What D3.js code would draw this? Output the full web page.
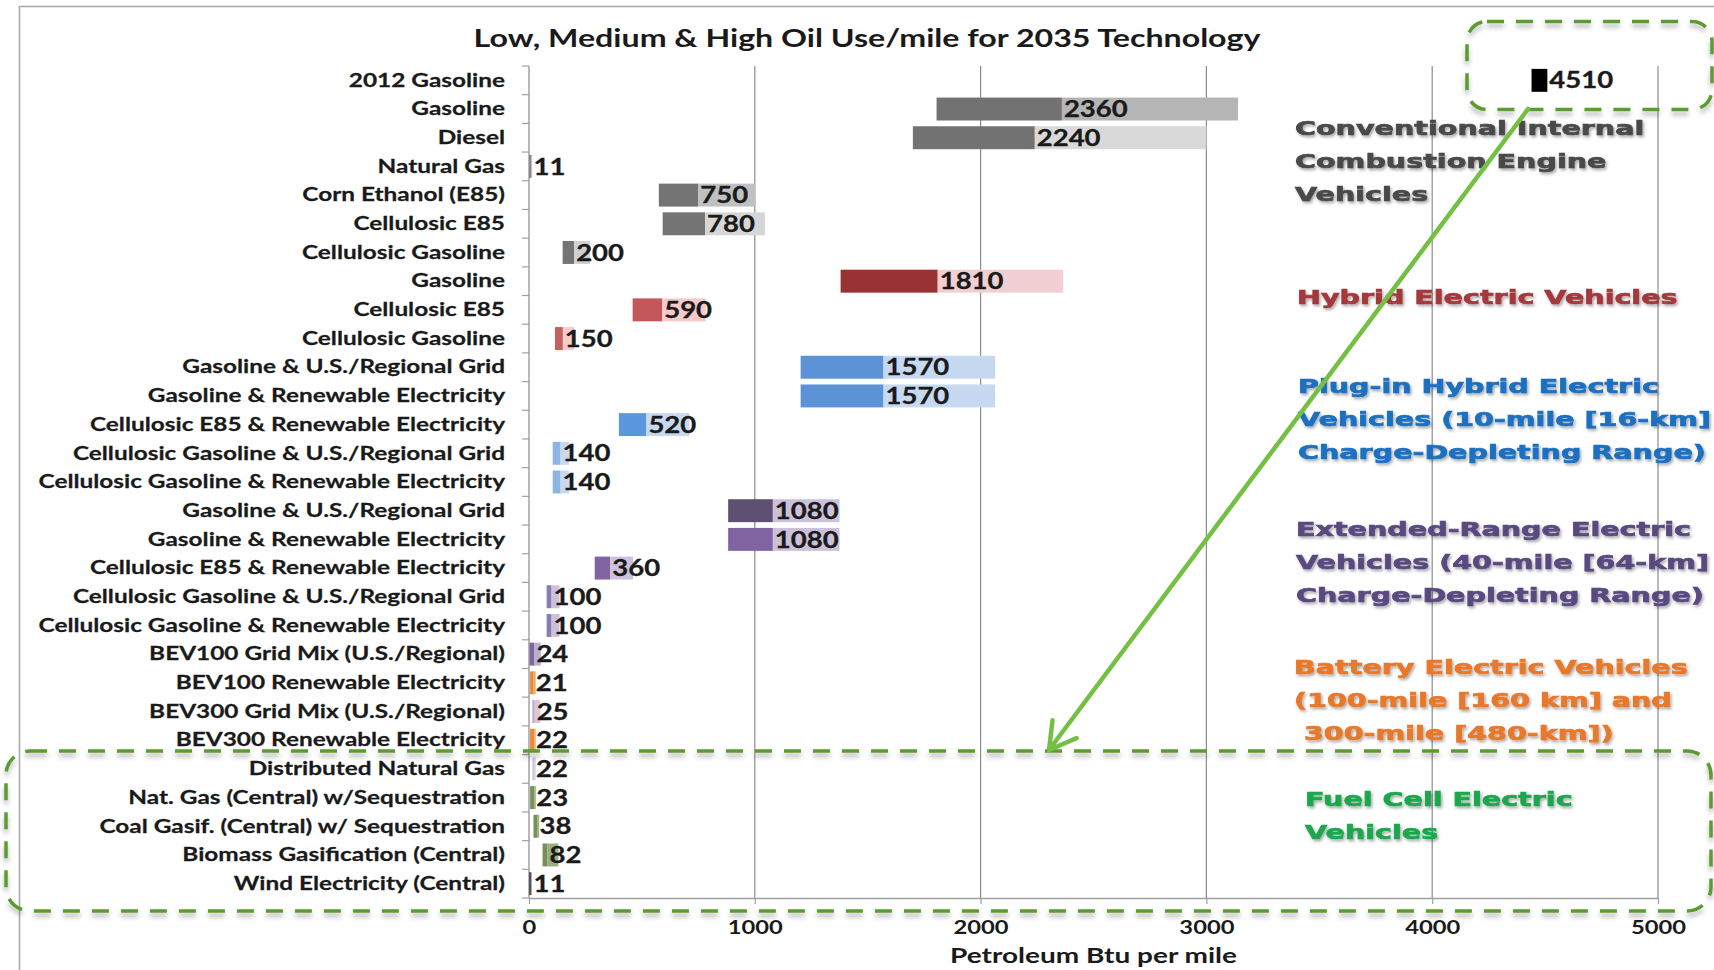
<!DOCTYPE html>
<html>
<head>
<meta charset="utf-8">
<script src="https://cdn.jsdelivr.net/npm/d3@7"></script>
<style>
  body { margin: 0; background: #fff; }
  svg { display: block; }
</style>
</head>
<body>
<svg id="chart" width="1714" height="970"></svg>
<script>
// rows, top to bottom
var categories = [
  "2012 Gasoline", "Gasoline", "Diesel", "Natural Gas", "Corn Ethanol (E85)", "Cellulosic E85", "Cellulosic Gasoline",
  "Gasoline", "Cellulosic E85", "Cellulosic Gasoline",
  "Gasoline & U.S./Regional Grid", "Gasoline & Renewable Electricity", "Cellulosic E85 & Renewable Electricity",
  "Cellulosic Gasoline & U.S./Regional Grid", "Cellulosic Gasoline & Renewable Electricity",
  "Gasoline & U.S./Regional Grid", "Gasoline & Renewable Electricity", "Cellulosic E85 & Renewable Electricity",
  "Cellulosic Gasoline & U.S./Regional Grid", "Cellulosic Gasoline & Renewable Electricity",
  "BEV100 Grid Mix (U.S./Regional)", "BEV100 Renewable Electricity", "BEV300 Grid Mix (U.S./Regional)", "BEV300 Renewable Electricity",
  "Distributed Natural Gas", "Nat. Gas (Central) w/Sequestration", "Coal Gasif. (Central) w/ Sequestration",
  "Biomass Gasification (Central)", "Wind Electricity (Central)"
];

// petroleum Btu per mile: low / medium / high
var lowUse  = [4440, 1805, 1700, 0, 575, 592, 149, 1380, 459, 115, 1203, 1203, 398, 105, 105, 882, 882, 291, 78, 78, 2, 5, 15, 5, 15, 5, 20, 60, 0];
var medUse  = [4510, 2360, 2240, 11, 750, 780, 200, 1810, 590, 150, 1570, 1570, 520, 140, 140, 1080, 1080, 360, 100, 100, 24, 21, 25, 22, 22, 23, 38, 82, 11];
var highUse = [4510, 3140, 3000, 14, 1003, 1045, 270, 2366, 783, 200, 2064, 2064, 710, 177, 177, 1375, 1375, 461, 135, 135, 52, 30, 50, 30, 30, 30, 45, 130, 11];

var xTicks = [0, 1000, 2000, 3000, 4000, 5000];

var groupLines = [
  ["Conventional Internal", "Combustion Engine", "Vehicles"],
  ["Hybrid Electric Vehicles"],
  ["Plug-in Hybrid Electric", "Vehicles (10-mile [16-km]", "Charge-Depleting Range)"],
  ["Extended-Range Electric", "Vehicles (40-mile [64-km]", "Charge-Depleting Range)"],
  ["Battery Electric Vehicles", "(100-mile [160 km] and", " 300-mile [480-km])"],
  ["Fuel Cell Electric", "Vehicles"]
];

var darkColor = ["#000000", "#727272", "#727272", "#8a8a8a", "#747474", "#747474", "#747474",
  "#993333", "#c4575a", "#c4605e",
  "#5b93d6", "#5b93d6", "#5b97dc", "#8db4e2", "#8db4e2",
  "#5f4f73", "#8064a2", "#8064a2", "#8a7cb0", "#8a7cb0",
  "#7d66a0", "#e8883a", "#9fb0e0", "#e8883a",
  "#c8c2da", "#77905a", "#77905a", "#77905a", "#555555"];
var lightColor = ["#000000", "#b5b5b5", "#d9d9d9", "#bdbdbd", "#c0c0c0", "#d6d6d6", "#d0d0d0",
  "#f2d0d2", "#f4caca", "#f4cccc",
  "#c6d9f1", "#c6d9f1", "#c6d9f1", "#c6d9f1", "#c6d9f1",
  "#ccc0da", "#ccc0da", "#ccc0da", "#ccc0da", "#ccc0da",
  "#b8aed0", "#f0b070", "#e8c4ca", "#f0b070",
  "#d8d4e4", "#9aae80", "#9aae80", "#9aae80", "#888888"];
var groupColors = ["#4a4a4a", "#a3383c", "#1f6fc0", "#5a4a80", "#e8782a", "#1ea64e"];

var svg = d3.select("#chart");
var plotLeft = 529, plotRight = 1658, plotTop = 66, plotBottom = 898;
var sx = 1.25; // text in the source is drawn wide

var x = d3.scaleLinear().domain([0, 5000]).range([plotLeft, plotRight]);
var y = d3.scaleBand().domain(d3.range(categories.length)).range([plotTop, plotBottom])
  .paddingInner(0.2).paddingOuter(0.1);

var defs = svg.append("defs");
var sh = defs.append("filter").attr("id", "shadow").attr("x", "-10%").attr("y", "-10%").attr("width", "120%").attr("height", "140%");
sh.append("feDropShadow").attr("dx", 1.5).attr("dy", 2).attr("stdDeviation", 1.4)
  .attr("flood-color", "#000").attr("flood-opacity", 0.35);
var bsh = defs.append("filter").attr("id", "boxshadow").attr("x", "-5%").attr("y", "-20%").attr("width", "110%").attr("height", "150%");
bsh.append("feDropShadow").attr("dx", 0).attr("dy", 4).attr("stdDeviation", 2.5)
  .attr("flood-color", "#000").attr("flood-opacity", 0.3);

// outer frame
svg.append("path").attr("d", "M19.5,970V6.5H1714").attr("fill", "none")
  .attr("stroke", "#a6a6a6").attr("stroke-width", 1.5);

// title
svg.append("text")
  .attr("transform", "translate(867,47) scale(1.34,1)")
  .attr("text-anchor", "middle")
  .style("font-family", "Lato").style("font-size", "24px").style("font-weight", "bold")
  .attr("fill", "#1a1a1a")
  .text("Low, Medium & High Oil Use/mile for 2035 Technology");

// gridlines
svg.append("g").selectAll("line").data(xTicks.slice(1)).join("line")
  .attr("x1", function(d) { return x(d); }).attr("x2", function(d) { return x(d); })
  .attr("y1", plotTop).attr("y2", plotBottom)
  .attr("stroke", "#8c8c8c").attr("stroke-width", 1.2);

// x axis
var gx = svg.append("g").attr("transform", "translate(0," + plotBottom + ")")
  .call(d3.axisBottom(x).tickValues(xTicks).tickFormat(d3.format("d"))
    .tickSizeInner(6).tickSizeOuter(0).tickPadding(17));
gx.select(".domain").attr("stroke", "#a0a0a0").attr("stroke-width", 1.5);
gx.selectAll(".tick line").attr("stroke", "#a0a0a0").attr("stroke-width", 1.2);
gx.selectAll(".tick text")
  .attr("transform", "scale(" + sx + ",1)")
  .style("font-family", "Lato").style("font-size", "19px").style("font-weight", "bold")
  .attr("fill", "#1a1a1a");

svg.append("text")
  .attr("transform", "translate(" + ((plotLeft + plotRight) / 2) + ",963) scale(1.4,1)")
  .attr("text-anchor", "middle")
  .style("font-family", "Lato").style("font-size", "20px").style("font-weight", "bold")
  .attr("fill", "#1a1a1a")
  .text("Petroleum Btu per mile");

// y axis with labels
var gy = svg.append("g").attr("transform", "translate(" + plotLeft + ",0)")
  .call(d3.axisLeft(y).tickSize(0).tickPadding(24).tickFormat(function(i) { return categories[i]; }));
gy.select(".domain").remove();
gy.selectAll(".tick text")
  .attr("transform", "scale(" + sx + ",1)")
  .attr("x", -24 / sx)
  .style("font-family", "Lato").style("font-size", "19.5px").style("font-weight", "bold")
  .attr("fill", "#1a1a1a").attr("stroke", "#1a1a1a").attr("stroke-width", 0.25);
svg.append("line").attr("x1", plotLeft).attr("x2", plotLeft).attr("y1", plotTop).attr("y2", plotBottom)
  .attr("stroke", "#a0a0a0").attr("stroke-width", 1.5);
svg.append("g").selectAll("line").data(d3.range(categories.length + 1)).join("line")
  .attr("x1", plotLeft - 7).attr("x2", plotLeft)
  .attr("y1", function(i) { return plotTop + i * y.step(); })
  .attr("y2", function(i) { return plotTop + i * y.step(); })
  .attr("stroke", "#a0a0a0").attr("stroke-width", 1.2);

// bars: low->medium dark, medium->high light
var rows = svg.append("g").selectAll("g").data(d3.range(categories.length)).join("g");
rows.append("rect")
  .attr("x", function(i) { return x(lowUse[i]); })
  .attr("y", function(i) { return y(i); })
  .attr("width", function(i) { return Math.max(x(medUse[i]) - x(lowUse[i]), 0); })
  .attr("height", y.bandwidth())
  .attr("fill", function(i) { return darkColor[i]; });
rows.append("rect")
  .attr("x", function(i) { return x(medUse[i]); })
  .attr("y", function(i) { return y(i); })
  .attr("width", function(i) { return Math.max(x(highUse[i]) - x(medUse[i]), 0); })
  .attr("height", y.bandwidth())
  .attr("fill", function(i) { return lightColor[i]; });
rows.append("text")
  .attr("transform", function(i) {
    return "translate(" + (x(medUse[i]) + 2) + "," + (y(i) + y.bandwidth() / 2) + ") scale(" + sx + ",1)";
  })
  .attr("dy", "0.37em")
  .style("font-family", "Lato").style("font-size", "22px").style("font-weight", "bold")
  .attr("fill", "#1a1a1a").attr("stroke", "#1a1a1a").attr("stroke-width", 0.3)
  .text(function(i) { return medUse[i]; });

// group annotations
var groupPos = [[1295, 135], [1297, 304], [1298, 393], [1296, 536], [1294, 674], [1305, 806]];
groupLines.forEach(function(lines, g) {
  var t = svg.append("g").attr("filter", "url(#shadow)");
  t.selectAll("text").data(lines).join("text")
    .attr("transform", function(d, k) {
      return "translate(" + groupPos[g][0] + "," + (groupPos[g][1] + k * 32.8) + ") scale(1.43,1)";
    })
    .style("white-space", "pre")
    .style("font-family", "DejaVu Sans").style("font-size", "20px").style("font-weight", "bold")
    .attr("fill", groupColors[g]).attr("stroke", groupColors[g]).attr("stroke-width", 0.7)
    .text(function(d) { return d; });
});

// dashed callouts
var callouts = [[1467, 21.5, 245, 88, 20], [6, 751, 1705, 160, 24]];
svg.append("g").selectAll("rect").data(callouts).join("rect")
  .attr("x", function(d) { return d[0]; }).attr("y", function(d) { return d[1]; })
  .attr("width", function(d) { return d[2]; }).attr("height", function(d) { return d[3]; })
  .attr("rx", function(d) { return d[4]; })
  .attr("fill", "none").attr("stroke", "#5b9a30").attr("stroke-width", 3.5)
  .attr("stroke-dasharray", "17,12").attr("filter", "url(#boxshadow)");

// arrow from the 2012 box down to the fuel cell box
var a0 = [1528, 109], a1 = [1049, 750];
var dx = a1[0] - a0[0], dy = a1[1] - a0[1], len = Math.sqrt(dx * dx + dy * dy);
var ux = dx / len, uy = dy / len, hl = 30, ang = Math.PI / 6;
function arm(s) {
  var c = Math.cos(s * ang), n = Math.sin(s * ang);
  return [a1[0] - hl * (ux * c - uy * n), a1[1] - hl * (ux * n + uy * c)];
}
var p1 = arm(1), p2 = arm(-1);
svg.append("path")
  .attr("d", "M" + a0 + "L" + a1 + "M" + p1 + "L" + a1 + "L" + p2)
  .attr("fill", "none").attr("stroke", "#74c043").attr("stroke-width", 4.5)
  .attr("stroke-linecap", "round").attr("stroke-linejoin", "round");
</script>
</body>
</html>
